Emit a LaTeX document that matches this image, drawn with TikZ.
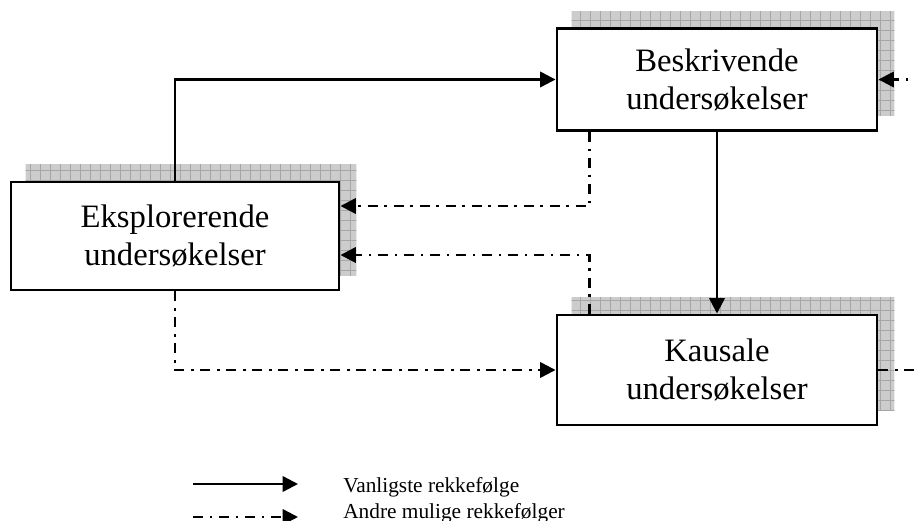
\documentclass[tikz,border=0pt]{standalone}
\usepackage{fontspec}
\setmainfont{Liberation Serif}
\usetikzlibrary{arrows.meta,backgrounds}

\begin{document}
\begin{tikzpicture}[x=0.75pt, y=-0.75pt,
    boks/.style={draw, line width=2.2pt, fill=white, minimum width=240pt,
        minimum height=76.5pt, align=center, inner sep=0pt,
        font=\fontsize{24.5}{28.5}\selectfont},
    hovedpil/.style={line width=1.8pt, -{Triangle[length=11.5pt,width=11.5pt]}},
    andrepil/.style={line width=1.8pt, dash pattern=on 7.5pt off 5pt on 2pt off 5pt,
        -{Triangle[length=11.5pt,width=11.5pt]}},
    forklaring/.style={anchor=base west, inner sep=0pt, font=\fontsize{16}{19}\selectfont}]
    \useasboundingbox (0,0) rectangle (915,521);
    \clip (0,0) rectangle (915,521);

    % Boksene
    \node[boks] (besk) at (717,79.5) {Beskrivende\\undersøkelser};
    \node[boks, minimum width=246pt, minimum height=81pt] (ekspl) at (175,236) {Eksplorerende\\undersøkelser};
    \node[boks, minimum height=82.5pt] (kaus) at (717,370) {Kausale\\undersøkelser};

    % Skygger bak boksene
    \begin{scope}[on background layer]
        \foreach \b in {besk,ekspl,kaus} {
            \begin{scope}
                \clip ([shift={(16,-16)}]\b.south west) rectangle ([shift={(16,-16)}]\b.north east);
                \fill[gray!40] (0,0) rectangle (915,521);
                \draw[gray!70, line width=0.5pt, step=7.5pt] (0,0) grid (915,521);
            \end{scope}
        }
    \end{scope}

    % Vanligste rekkefølge
    \draw[hovedpil] (ekspl.north) |- (besk.west);
    \draw[hovedpil] (besk.south) -- (kaus.north);

    % Andre mulige rekkefølger
    \draw[andrepil] ([xshift=25.5pt]besk.south west) |- ([yshift=22.5pt]ekspl.east);
    \draw[andrepil] ([xshift=25.5pt]kaus.north west) |- ([yshift=-14.25pt]ekspl.east);
    \draw[andrepil] (ekspl.south) |- (kaus.west);
    \draw[andrepil] (kaus.east) -- ++(60,0) |- (besk.east);

    % Forklaring
    \coordinate (v1) at (193,484);
    \coordinate (h1) at (298,484);
    \coordinate (v2) at (193,517);
    \coordinate (h2) at (298,517);
    \draw[hovedpil] (v1) -- (h1);
    \draw[andrepil] (v2) -- (h2);
    \node[forklaring] (vanlig) at (343,492) {Vanligste rekkefølge};
    \node[forklaring] (andre) at (343,518) {Andre mulige rekkefølger};
\end{tikzpicture}
\end{document}
